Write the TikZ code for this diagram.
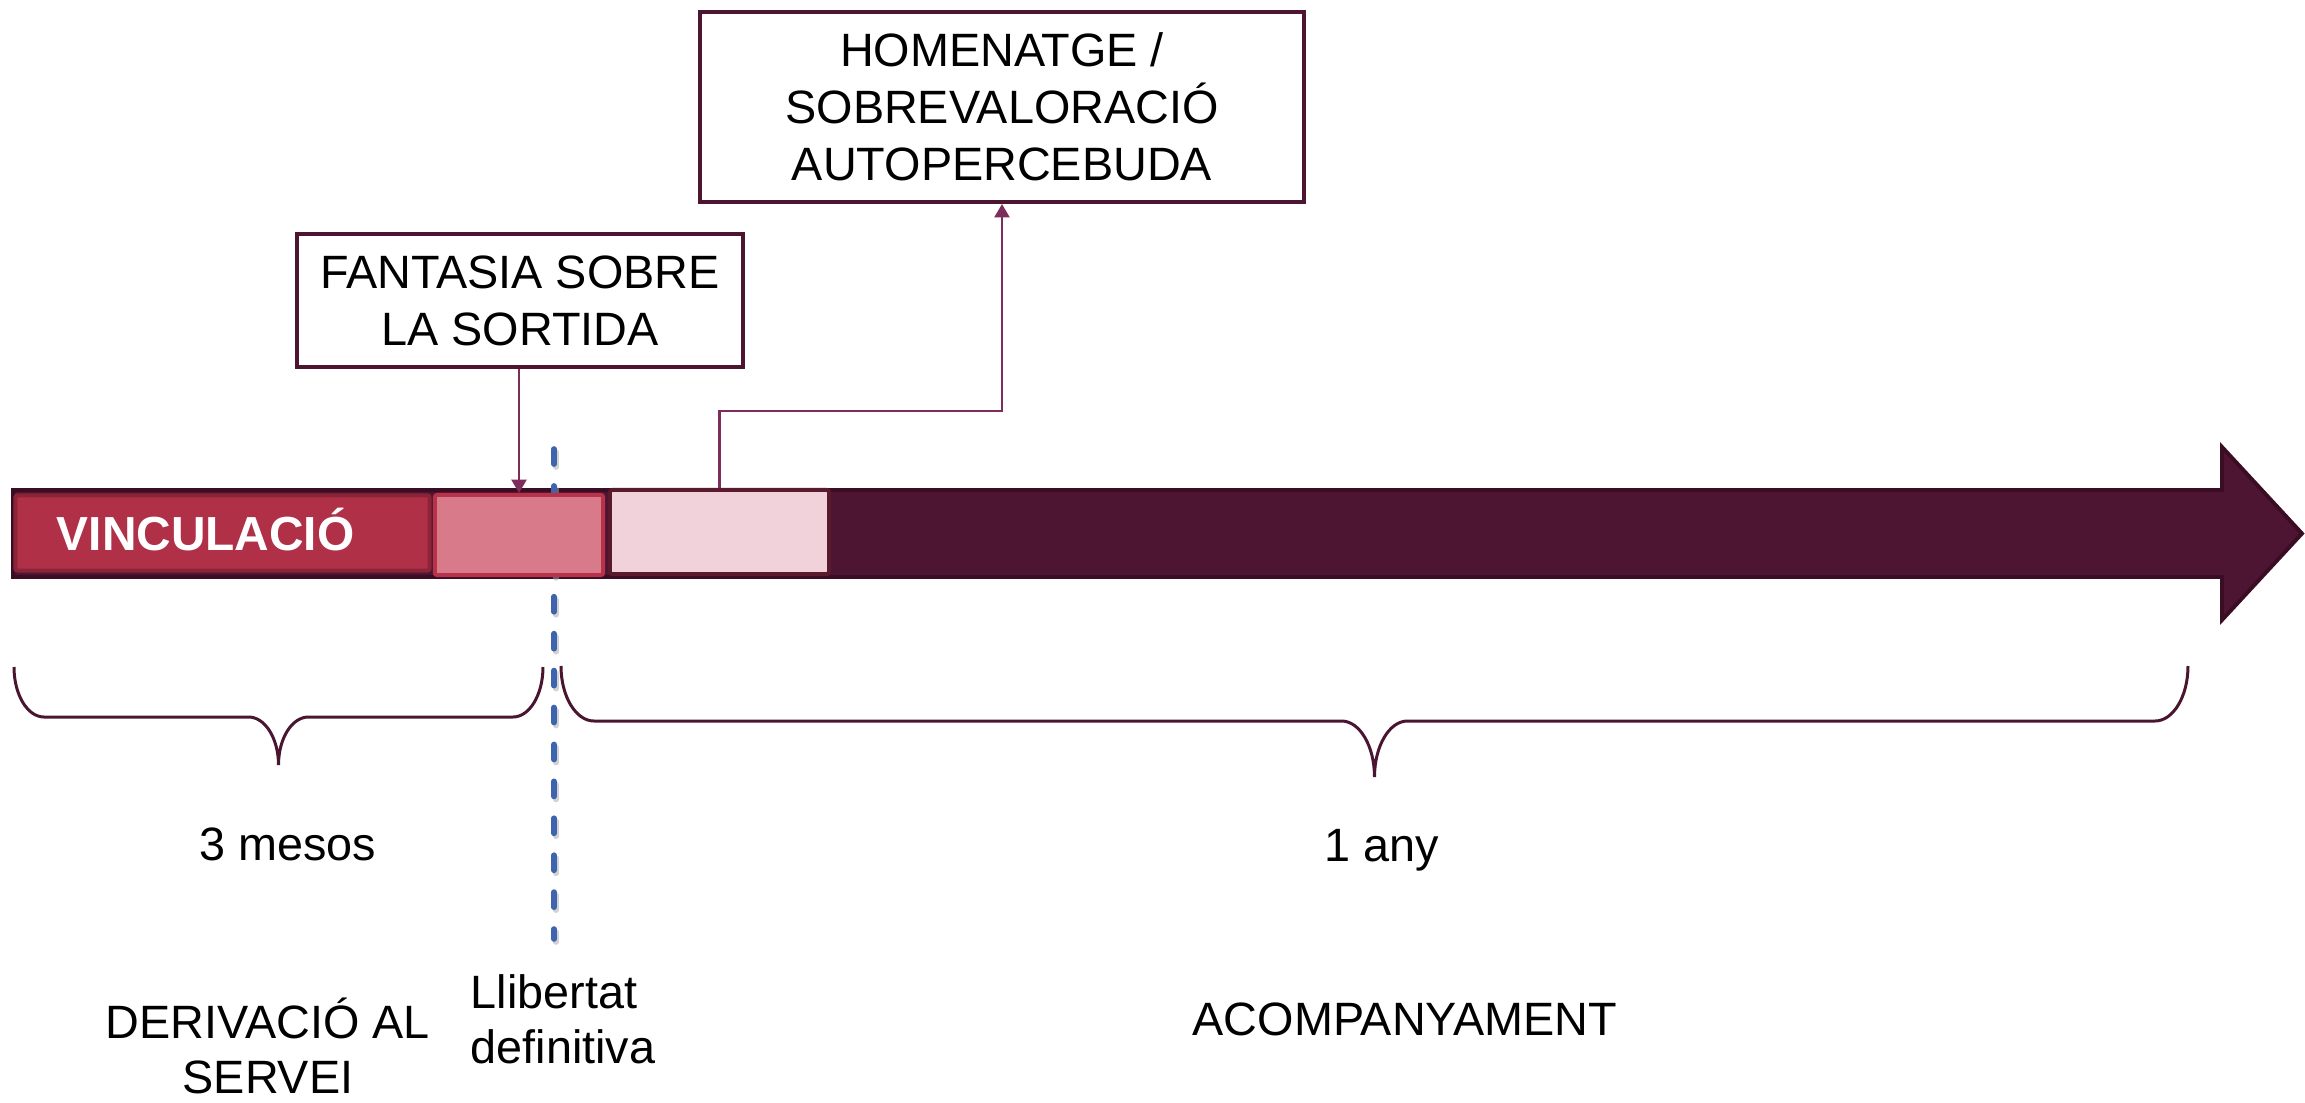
\documentclass[tikz,border=0pt]{standalone}
\usepackage{fontspec}
\setmainfont{Liberation Sans}
\usetikzlibrary{arrows.meta}
\definecolor{barfill}{HTML}{4D1532}
\definecolor{barline}{HTML}{3A0D24}
\definecolor{vincfill}{HTML}{B03048}
\definecolor{vincline}{HTML}{8C2438}
\definecolor{pinkfill}{HTML}{D97A8A}
\definecolor{pinkline}{HTML}{B8324A}
\definecolor{lightfill}{HTML}{F2D2DA}
\definecolor{lightline}{HTML}{5A1A2E}
\definecolor{connc}{HTML}{7E2C5A}
\definecolor{boxline}{HTML}{4D1532}
\definecolor{bracec}{HTML}{4A1530}
\definecolor{dashblue}{HTML}{3E64AD}
\begin{document}
\begin{tikzpicture}[x=0.01cm,y=-0.01cm,
  txt/.style={font=\fontsize{13.3pt}{16.2pt}\selectfont, inner sep=0pt, align=center},
  callout/.style={txt, draw=boxline, line width=1.14pt, fill=white},
  segbox/.style={inner sep=0pt, line width=1.14pt, rounded corners=0.6pt},
  conn/.style={draw=connc, line width=0.6pt, -{Triangle[width=4.3pt,length=3.8pt]}},
  bracestyle/.style={draw=bracec, line width=0.85pt},
  timeline/.style={dashblue, line width=1.6pt, line cap=round, dash pattern=on 4.3pt off 6.2pt}]
\useasboundingbox (0,0) rectangle (2305,1103);

% main arrow
\draw[fill=barfill, draw=barline, line width=1.1pt]
  (13,490) -- (2222,490) -- (2222,447) -- (2302,533.5) -- (2222,620) -- (2222,577) -- (13,577) -- cycle;

% vertical dashed line (with shadow)
\coordinate (dtop) at (554,449);
\coordinate (dbot) at (554,939);
\draw[timeline, draw=black!35, opacity=0.5] ([shift={(2,3)}]dtop) -- ([shift={(2,3)}]dbot);
\draw[timeline] (dtop) -- (dbot);

% segments on the bar
\node[segbox, draw=vincline, fill=vincfill, minimum width=41.4mm, minimum height=7.5mm,
      text width=33.1mm, align=left, text height=9.7pt, text depth=0pt, inner xsep=4.15mm,
      font=\fontsize{13.6pt}{16pt}\selectfont\bfseries, text=white] (vinc) at (222.5,533) {VINCULACIÓ};
\node[segbox, draw=pinkline, fill=pinkfill, minimum width=16.8mm, minimum height=8.0mm] (pink) at (519,535) {};
\node[segbox, draw=lightline, fill=lightfill, minimum width=21.9mm, minimum height=8.4mm] (light) at (719.5,532) {};

% callout boxes
\node[callout, minimum width=44.6mm, minimum height=13.3mm] (fant) at (520,300.5) {FANTASIA SOBRE\\LA SORTIDA};
\node[callout, minimum width=60.4mm, minimum height=19.0mm] (homen) at (1002,107) {HOMENATGE /\\SOBREVALORACIÓ\\AUTOPERCEBUDA};

% connectors
\draw[conn] (fant.south -| pink.north) -- (pink.north);
\draw[conn] (light.north) -- ++(0,-77) -| (homen.south);

% braces
\draw[bracestyle] (14,667) .. controls (14,694.6) and (27.4,717) .. (44,717)
  -- (248.5,717) .. controls (265.1,717) and (278.5,738.5) .. (278.5,765)
  .. controls (278.5,738.5) and (291.9,717) .. (308.5,717)
  -- (513,717) .. controls (529.6,717) and (543,694.6) .. (543,667);
\draw[bracestyle] (561,666) .. controls (561,696.4) and (575.8,721) .. (594,721)
  -- (1341.5,721) .. controls (1359.7,721) and (1374.5,746.1) .. (1374.5,777)
  .. controls (1374.5,746.1) and (1389.3,721) .. (1407.5,721)
  -- (2155,721) .. controls (2173.2,721) and (2188,696.4) .. (2188,666);

% labels
\node[txt, anchor=base] (tres) at (288,860) {3 mesos};
\node[txt, anchor=base] (any) at (1382,861) {1 any};
\node[txt, anchor=base, font=\fontsize{13.3pt}{15.6pt}\selectfont] (deriv) at (268,1093) {DERIVACIÓ AL\\SERVEI};
\node[txt, anchor=base west, align=left, font=\fontsize{13.3pt}{15.6pt}\selectfont] (llib) at (470,1063) {Llibertat\\definitiva};
\node[txt, anchor=base] (acomp) at (1405,1035) {ACOMPANYAMENT};
\end{tikzpicture}
\end{document}
